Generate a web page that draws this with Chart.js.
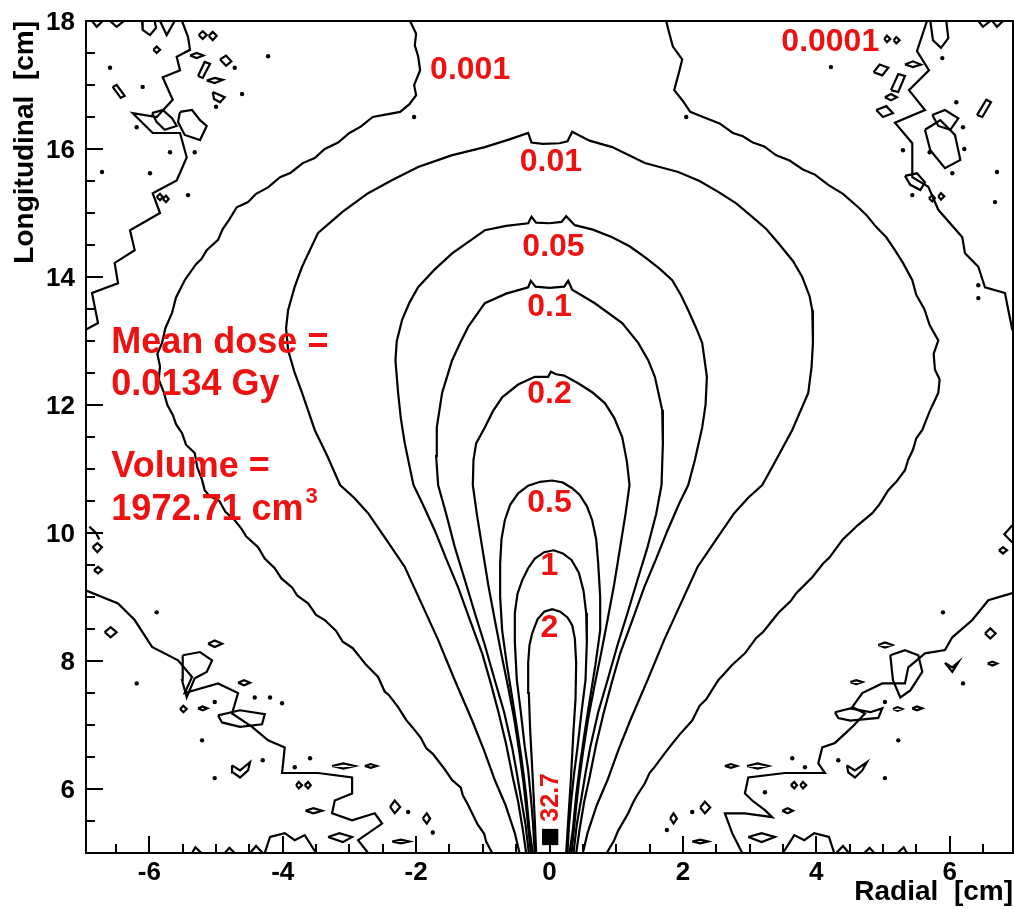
<!DOCTYPE html>
<html>
<head>
<meta charset="utf-8">
<script src="https://cdn.jsdelivr.net/npm/chart.js@4.4.1/dist/chart.umd.min.js"></script>
<style>
  html, body { margin: 0; padding: 0; background: #fff; overflow: hidden; }
  canvas { display: block; }
</style>
</head>
<body>
<canvas id="dose" width="1014" height="909"></canvas>
<script>
// axis tick labels
const xTicks = [-6, -4, -2, 0, 2, 4, 6];
const yTicks = [6, 8, 10, 12, 14, 16, 18];

// iso-dose contours, [radial, longitudinal] in cm
const dose2 = [[-0.20,5.0],[-0.22,5.5],[-0.25,6.14],[-0.29,6.92],[-0.31,7.5],[-0.32,7.97],[-0.30,8.25],[-0.26,8.43],[-0.18,8.65],[-0.08,8.77],[0.04,8.81],[0.16,8.77],[0.27,8.68],[0.34,8.56],[0.38,8.35],[0.40,7.97],[0.39,7.4],[0.36,6.92],[0.32,6.14],[0.28,5.5],[0.25,5.0]];
const dose1 = [[-0.22,5.0],[-0.25,5.5],[-0.28,5.87],[-0.32,6.3],[-0.37,6.65],[-0.43,7.2],[-0.49,7.7],[-0.52,8.3],[-0.52,8.75],[-0.48,9.05],[-0.41,9.26],[-0.32,9.45],[-0.22,9.6],[-0.08,9.7],[0.06,9.73],[0.20,9.68],[0.33,9.58],[0.44,9.38],[0.51,9.1],[0.55,8.75],[0.56,8.3],[0.54,7.7],[0.48,7.2],[0.42,6.65],[0.37,6.25],[0.33,5.87],[0.29,5.4],[0.27,5.0]];
const dose05 = [[-0.25,5.0],[-0.30,5.36],[-0.35,5.9],[-0.41,6.4],[-0.48,6.9],[-0.56,7.43],[-0.64,7.95],[-0.71,8.48],[-0.74,9.0],[-0.74,9.53],[-0.72,9.9],[-0.67,10.2],[-0.59,10.44],[-0.47,10.62],[-0.32,10.74],[-0.14,10.8],[0.04,10.82],[0.20,10.79],[0.34,10.7],[0.45,10.6],[0.56,10.42],[0.64,10.2],[0.70,9.9],[0.73,9.53],[0.76,9.0],[0.76,8.48],[0.69,7.95],[0.61,7.43],[0.53,6.9],[0.46,6.4],[0.40,5.9],[0.35,5.36],[0.30,5.0]];
const dose02 = [[-0.28,5.0],[-0.34,5.62],[-0.39,6.1],[-0.45,6.56],[-0.53,7.1],[-0.62,7.59],[-0.72,8.1],[-0.82,8.64],[-0.92,9.2],[-1.01,9.78],[-1.09,10.3],[-1.15,10.75],[-1.14,11.14],[-1.10,11.4],[-0.97,11.65],[-0.85,11.9],[-0.71,12.12],[-0.47,12.32],[-0.22,12.44],[-0.02,12.44],[0.02,12.52],[0.10,12.48],[0.22,12.46],[0.43,12.34],[0.64,12.2],[0.83,12.03],[0.97,11.8],[1.09,11.5],[1.16,11.12],[1.20,10.75],[1.14,10.3],[1.06,9.78],[0.97,9.2],[0.87,8.64],[0.77,8.1],[0.67,7.59],[0.58,7.1],[0.50,6.56],[0.44,6.1],[0.39,5.62],[0.33,5.0]];
const dose01 = [[-0.31,5.0],[-0.36,5.45],[-0.43,5.87],[-0.49,6.25],[-0.56,6.65],[-0.68,7.2],[-0.82,7.7],[-0.97,8.25],[-1.12,8.75],[-1.27,9.27],[-1.42,9.78],[-1.55,10.3],[-1.67,10.75],[-1.70,11.2],[-1.69,11.65],[-1.61,12.19],[-1.46,12.7],[-1.34,12.97],[-1.22,13.22],[-0.97,13.59],[-0.65,13.74],[-0.32,13.84],[-0.28,13.94],[-0.21,13.85],[0.0,13.83],[0.22,13.85],[0.28,13.94],[0.34,13.8],[0.68,13.59],[1.09,13.28],[1.33,12.97],[1.48,12.7],[1.58,12.44],[1.69,11.92],[1.70,11.4],[1.68,10.75],[1.60,10.3],[1.47,9.78],[1.32,9.27],[1.17,8.75],[1.02,8.25],[0.87,7.7],[0.73,7.2],[0.61,6.65],[0.54,6.25],[0.48,5.87],[0.41,5.45],[0.36,5.0]];
const dose005 = [[-0.35,5.0],[-0.40,5.36],[-0.47,5.8],[-0.55,6.18],[-0.65,6.7],[-0.76,7.18],[-0.88,7.65],[-1.01,8.12],[-1.19,8.63],[-1.37,9.15],[-1.55,9.6],[-1.72,10.04],[-1.90,10.45],[-2.04,10.75],[-2.11,11.1],[-2.17,11.4],[-2.23,11.8],[-2.27,12.19],[-2.31,12.7],[-2.29,13.0],[-2.21,13.33],[-2.10,13.6],[-1.97,13.84],[-1.72,14.12],[-1.46,14.37],[-1.20,14.56],[-0.97,14.73],[-0.65,14.8],[-0.32,14.84],[-0.27,14.94],[-0.20,14.85],[0.0,14.84],[0.18,14.86],[0.25,14.95],[0.38,14.81],[0.65,14.74],[0.94,14.62],[1.20,14.48],[1.43,14.31],[1.65,14.13],[1.84,13.95],[1.97,13.72],[2.08,13.48],[2.20,13.2],[2.29,12.97],[2.36,12.44],[2.34,12.0],[2.29,11.65],[2.18,11.14],[2.08,10.75],[1.94,10.45],[1.77,10.04],[1.60,9.6],[1.42,9.15],[1.24,8.63],[1.06,8.12],[0.93,7.65],[0.81,7.18],[0.70,6.7],[0.60,6.18],[0.52,5.8],[0.45,5.36],[0.40,5.0]];
const dose001 = [[-0.45,5.0],[-0.52,5.31],[-0.66,5.75],[-0.82,6.14],[-0.98,6.6],[-1.16,7.07],[-1.42,7.7],[-1.67,8.33],[-1.92,8.9],[-2.17,9.47],[-2.45,9.9],[-2.72,10.31],[-2.93,10.55],[-3.14,10.75],[-3.33,11.2],[-3.52,11.61],[-3.71,12.19],[-3.82,12.5],[-3.92,12.86],[-3.95,13.2],[-3.92,13.48],[-3.82,13.85],[-3.71,14.16],[-3.47,14.69],[-3.10,15.02],[-2.72,15.31],[-2.35,15.52],[-1.97,15.72],[-1.47,15.9],[-0.97,16.03],[-0.60,16.15],[-0.32,16.25],[-0.27,16.1],[-0.10,16.08],[0.15,16.09],[0.27,16.12],[0.34,16.27],[0.60,16.13],[0.94,16.03],[1.20,15.9],[1.43,15.78],[1.93,15.64],[2.25,15.5],[2.53,15.33],[2.80,15.15],[3.04,14.94],[3.25,14.75],[3.43,14.53],[3.65,14.25],[3.79,14.0],[3.90,13.7],[3.94,13.48],[3.95,12.97],[3.93,12.6],[3.88,12.19],[3.64,11.61],[3.34,11.03],[3.19,10.75],[2.98,10.55],[2.77,10.31],[2.50,9.9],[2.22,9.47],[1.97,8.9],[1.72,8.33],[1.47,7.7],[1.21,7.07],[1.03,6.6],[0.87,6.14],[0.71,5.75],[0.57,5.31],[0.50,5.0]];
const dose0001L = [[-0.86,5.0],[-0.95,5.18],[-0.98,5.3],[-1.08,5.45],[-1.16,5.62],[-1.22,5.75],[-1.30,5.9],[-1.33,6.02],[-1.46,6.14],[-1.58,6.32],[-1.75,6.55],[-1.85,6.64],[-1.93,6.8],[-2.06,6.97],[-2.15,7.08],[-2.27,7.28],[-2.41,7.47],[-2.47,7.52],[-2.57,7.75],[-2.75,7.94],[-2.95,8.2],[-3.10,8.3],[-3.20,8.47],[-3.37,8.64],[-3.50,8.72],[-3.62,8.9],[-3.78,9.02],[-3.86,9.15],[-4.02,9.29],[-4.12,9.45],[-4.27,9.6],[-4.37,9.78],[-4.55,9.95],[-4.62,10.07],[-4.72,10.2],[-4.86,10.33],[-4.95,10.5],[-5.10,10.58],[-5.17,10.67],[-5.21,10.83],[-5.28,11.02],[-5.32,11.25],[-5.45,11.38],[-5.51,11.56],[-5.60,11.7],[-5.65,11.85],[-5.73,12.0],[-5.78,12.19],[-5.86,12.4],[-5.84,12.6],[-5.88,12.8],[-5.81,12.97],[-5.76,13.2],[-5.66,13.44],[-5.60,13.68],[-5.47,13.95],[-5.30,14.2],[-5.22,14.28],[-5.14,14.42],[-4.97,14.58],[-4.90,14.75],[-4.80,14.9],[-4.69,15.09],[-4.52,15.17],[-4.40,15.3],[-4.22,15.4],[-4.04,15.56],[-3.88,15.63],[-3.70,15.78],[-3.52,15.86],[-3.37,16.0],[-3.17,16.1],[-3.00,16.25],[-2.83,16.35],[-2.65,16.5],[-2.40,16.55],[-2.24,16.58],[-2.10,16.7],[-2.00,16.84],[-2.03,17.0],[-1.94,17.23],[-1.97,17.45],[-2.02,17.62],[-2.00,17.8],[-2.09,18.0]];
const dose0001R = [[1.75,18.0],[1.78,17.87],[1.85,17.6],[1.99,17.4],[1.95,17.23],[1.87,16.92],[2.00,16.75],[2.11,16.58],[2.35,16.48],[2.55,16.4],[2.75,16.25],[2.90,16.2],[3.05,16.1],[3.22,16.04],[3.40,15.9],[3.60,15.82],[3.80,15.68],[3.98,15.6],[4.18,15.44],[4.40,15.3],[4.63,15.09],[4.75,14.97],[4.90,14.78],[5.05,14.62],[5.18,14.42],[5.30,14.22],[5.44,13.95],[5.50,13.72],[5.62,13.5],[5.70,13.25],[5.83,13.01],[5.76,12.8],[5.78,12.55],[5.85,12.4],[5.83,12.19],[5.70,11.9],[5.59,11.61],[5.50,11.48],[5.45,11.3],[5.38,11.15],[5.33,10.98],[5.20,10.8],[5.08,10.67],[4.95,10.45],[4.84,10.31],[4.62,10.12],[4.55,10.05],[4.39,9.89],[4.20,9.62],[4.10,9.52],[3.94,9.31],[3.70,9.06],[3.62,8.94],[3.43,8.75],[3.20,8.45],[3.10,8.36],[2.93,8.12],[2.73,7.93],[2.62,7.8],[2.53,7.7],[2.35,7.4],[2.25,7.3],[2.14,7.07],[1.95,6.85],[1.85,6.72],[1.73,6.56],[1.58,6.35],[1.50,6.25],[1.43,6.09],[1.30,5.88],[1.25,5.78],[1.18,5.62],[1.03,5.35],[0.97,5.2],[0.88,5.04],[0.86,5.0]];

// 0.0001 Gy fringe: long strands, small closed islands, edge bumps and dots
const fringeTL = [[-5.51,18.0],[-5.42,17.75],[-5.39,17.55],[-5.59,17.44],[-5.54,17.23],[-5.80,17.12],[-5.65,16.77],[-5.89,16.5],[-6.25,16.56],[-5.95,16.25],[-5.54,16.25],[-5.44,15.87],[-5.59,15.51],[-5.95,15.31],[-5.84,15.0],[-6.29,14.73],[-6.22,14.42],[-6.52,14.22],[-6.47,13.9],[-6.86,13.75],[-6.77,13.28],[-6.97,13.17]];
const fringeTR = [[5.66,18.0],[5.51,17.53],[5.69,17.23],[5.39,16.92],[5.63,16.61],[5.18,16.41],[5.44,16.09],[5.44,15.56],[5.68,15.41],[5.83,15.05],[6.19,14.62],[6.23,14.37],[6.43,14.16],[6.53,13.84],[6.83,13.75],[6.88,13.48],[6.94,13.17]];
const fringeBL = [[-6.97,9.11],[-6.47,8.9],[-6.22,8.64],[-5.96,8.22],[-5.57,8.01],[-5.36,7.75],[-5.47,7.5],[-4.97,7.65],[-4.67,7.5],[-4.76,7.18],[-4.46,6.97],[-4.22,6.76],[-3.97,6.65],[-4.01,6.25],[-3.47,6.25],[-2.96,6.18],[-2.96,5.93],[-3.22,5.82],[-3.26,5.62],[-2.96,5.51],[-2.62,5.62],[-2.51,5.46],[-2.87,5.2],[-2.72,5.0]];
const fringeBR = [[6.94,9.06],[6.58,8.95],[6.34,8.64],[6.04,8.37],[5.93,8.17],[5.63,8.12],[5.38,7.9],[5.33,7.65],[4.99,7.65],[4.69,7.5],[4.54,7.28],[4.73,7.18],[4.54,6.97],[4.28,6.72],[4.09,6.65],[4.03,6.4],[4.13,6.25],[3.53,6.25],[2.98,6.18],[2.93,5.93],[3.04,5.82],[3.23,5.67],[3.34,5.56],[2.93,5.62],[2.63,5.62],[2.74,5.31],[2.89,5.0]];

const fringeLoops = [
  [[-5.26,17.78],[-5.20,17.84],[-5.14,17.78],[-5.20,17.72]],
  [[-5.11,17.77],[-5.05,17.83],[-4.99,17.77],[-5.05,17.70]],
  [[-5.94,17.55],[-5.89,17.60],[-5.84,17.55],[-5.89,17.50]],
  [[-5.39,17.46],[-5.29,17.50],[-5.19,17.46],[-5.29,17.42]],
  [[-4.94,17.40],[-4.85,17.46],[-4.77,17.37],[-4.85,17.30]],
  [[-5.27,17.14],[-5.17,17.36],[-5.09,17.33],[-5.20,17.11]],
  [[-5.14,17.07],[-5.02,17.11],[-4.90,17.08],[-5.02,17.03]],
  [[-5.05,16.89],[-4.87,16.81],[-4.94,16.73],[-5.03,16.78]],
  [[-6.55,16.97],[-6.49,17.00],[-6.37,16.83],[-6.43,16.80]],
  [[-5.96,16.56],[-5.80,16.61],[-5.66,16.48],[-5.59,16.36],[-5.77,16.30],[-5.89,16.42]],
  [[-5.54,16.58],[-5.36,16.61],[-5.24,16.45],[-5.14,16.36],[-5.24,16.14],[-5.47,16.22],[-5.57,16.42]],
  [[-5.89,15.25],[-5.84,15.30],[-5.80,15.25],[-5.84,15.20]],
  [[-5.80,15.22],[-5.75,15.27],[-5.71,15.22],[-5.75,15.17]],
  [[4.86,17.20],[4.95,17.32],[5.08,17.27],[4.99,17.15]],
  [[5.12,16.92],[5.23,17.17],[5.33,17.14],[5.23,16.89]],
  [[4.90,16.61],[5.05,16.67],[5.15,16.56],[5.00,16.50]],
  [[5.03,16.81],[5.12,16.86],[5.21,16.81],[5.12,16.76]],
  [[5.33,17.32],[5.45,17.37],[5.57,17.32],[5.45,17.28]],
  [[6.41,16.53],[6.55,16.77],[6.62,16.73],[6.49,16.50]],
  [[5.02,17.72],[5.06,17.77],[5.11,17.72],[5.06,17.67]],
  [[5.16,17.70],[5.20,17.75],[5.25,17.70],[5.20,17.65]],
  [[5.74,16.53],[5.93,16.61],[6.13,16.48],[6.01,16.30],[5.83,16.36]],
  [[5.33,15.58],[5.51,15.62],[5.63,15.48],[5.56,15.36],[5.41,15.44]],
  [[5.69,15.23],[5.74,15.28],[5.78,15.23],[5.74,15.18]],
  [[5.83,15.26],[5.87,15.31],[5.92,15.26],[5.87,15.21]],
  [[5.63,16.30],[5.86,16.45],[6.08,16.22],[6.16,15.83],[5.93,15.70],[5.71,15.98]],
  [[-6.67,8.45],[-6.58,8.53],[-6.49,8.45],[-6.58,8.37]],
  [[-5.12,8.27],[-5.02,8.32],[-4.91,8.27],[-5.02,8.22]],
  [[-5.50,8.09],[-5.24,8.14],[-5.06,8.01],[-5.14,7.83],[-5.32,7.73],[-5.44,7.43],[-5.51,7.70]],
  [[-4.67,7.66],[-4.58,7.70],[-4.49,7.66],[-4.58,7.62]],
  [[-5.54,7.25],[-5.49,7.30],[-5.44,7.25],[-5.49,7.20]],
  [[-5.27,7.26],[-5.20,7.29],[-5.13,7.26],[-5.20,7.23]],
  [[-4.76,6.37],[-4.64,6.29],[-4.49,6.42],[-4.52,6.29],[-4.64,6.18],[-4.75,6.26]],
  [[-3.80,6.06],[-3.76,6.11],[-3.71,6.06],[-3.76,6.01]],
  [[-3.67,6.06],[-3.62,6.11],[-3.58,6.06],[-3.62,6.01]],
  [[-3.26,6.36],[-3.09,6.40],[-2.92,6.36],[-3.09,6.32]],
  [[-2.77,6.36],[-2.68,6.39],[-2.59,6.36],[-2.68,6.33]],
  [[-3.66,5.66],[-3.54,5.70],[-3.41,5.66],[-3.54,5.62]],
  [[-2.39,5.72],[-2.32,5.82],[-2.24,5.72],[-2.32,5.62]],
  [[-1.90,5.54],[-1.84,5.62],[-1.79,5.54],[-1.84,5.46]],
  [[-2.36,5.18],[-2.23,5.21],[-2.10,5.18],[-2.23,5.15]],
  [[-3.32,5.25],[-3.15,5.31],[-2.96,5.25],[-3.10,5.17]],
  [[-4.97,7.15],[-4.64,7.23],[-4.27,7.17],[-4.31,7.01],[-4.64,6.97],[-4.91,7.04]],
  [[-6.85,9.78],[-6.78,9.84],[-6.71,9.78],[-6.78,9.70]],
  [[-6.83,9.42],[-6.77,9.47],[-6.71,9.42],[-6.77,9.37]],
  [[6.53,8.43],[6.61,8.51],[6.69,8.43],[6.61,8.35]],
  [[4.93,8.25],[5.03,8.29],[5.14,8.25],[5.03,8.21]],
  [[5.11,8.09],[5.33,8.17],[5.53,8.09],[5.59,7.83],[5.41,7.54],[5.26,7.43],[5.15,7.70]],
  [[4.51,7.67],[4.60,7.70],[4.69,7.67],[4.60,7.64]],
  [[5.44,7.26],[5.51,7.29],[5.59,7.26],[5.51,7.23]],
  [[5.15,7.25],[5.22,7.28],[5.29,7.25],[5.22,7.22]],
  [[4.28,7.20],[4.51,7.26],[4.81,7.20],[4.99,7.26],[4.93,7.11],[4.51,7.07],[4.33,7.11]],
  [[4.46,6.37],[4.58,6.29],[4.76,6.42],[4.69,6.29],[4.58,6.18],[4.48,6.26]],
  [[3.62,6.06],[3.67,6.11],[3.71,6.06],[3.67,6.01]],
  [[3.76,6.06],[3.80,6.11],[3.85,6.06],[3.80,6.01]],
  [[2.63,6.36],[2.72,6.39],[2.81,6.36],[2.72,6.33]],
  [[2.96,6.36],[3.12,6.40],[3.28,6.36],[3.12,6.32]],
  [[3.49,5.66],[3.57,5.70],[3.65,5.66],[3.57,5.62]],
  [[2.26,5.71],[2.33,5.80],[2.41,5.71],[2.33,5.62]],
  [[1.81,5.54],[1.86,5.62],[1.91,5.54],[1.86,5.46]],
  [[2.14,5.18],[2.26,5.21],[2.38,5.18],[2.26,5.15]],
  [[2.98,5.25],[3.18,5.31],[3.38,5.25],[3.18,5.17]],
  [[5.93,7.97],[6.04,7.83],[6.13,7.98],[6.04,7.90]],
  [[6.57,7.96],[6.64,7.99],[6.71,7.96],[6.64,7.93]],
  [[6.74,9.73],[6.80,9.78],[6.86,9.73],[6.80,9.68]]
];
const fringeArcs = [
  [[-6.11,18.0],[-6.10,17.86],[-5.99,17.78],[-5.90,17.89],[-5.92,18.0]],
  [[-5.84,18.0],[-5.74,17.78],[-5.62,18.0]],
  [[-6.86,18.0],[-6.79,17.91],[-6.70,18.0]],
  [[-6.59,18.0],[-6.49,17.91],[-6.38,18.0]],
  [[5.71,18.0],[5.75,17.70],[5.87,17.58],[5.98,17.73],[5.95,18.0]],
  [[6.43,18.0],[6.50,17.91],[6.61,18.0]],
  [[6.64,18.0],[6.71,17.91],[6.80,18.0]],
  [[-5.36,5.0],[-5.31,5.09],[-5.22,5.0]],
  [[-4.87,5.0],[-4.80,5.08],[-4.72,5.0]],
  [[-4.49,5.0],[-4.40,5.11],[-4.30,5.0]],
  [[-4.27,5.0],[-4.19,5.25],[-3.97,5.31],[-3.82,5.2],[-3.67,5.28],[-3.50,5.0]],
  [[5.22,5.0],[5.31,5.09],[5.36,5.0]],
  [[4.72,5.0],[4.80,5.08],[4.87,5.0]],
  [[4.30,5.0],[4.40,5.11],[4.49,5.0]],
  [[3.50,5.0],[3.67,5.28],[3.82,5.2],[3.97,5.31],[4.19,5.25],[4.27,5.0]],
  [[-6.90,10.1],[-6.80,10.0],[-6.75,9.9]],
  [[6.94,10.12],[6.82,9.98],[6.94,9.85]]
];
const fringeDots = [[-4.22,17.45],[-4.61,16.86],[-6.59,17.27],[-6.10,16.97],[-6.19,16.34],[-5.69,15.95],[-5.32,15.95],[-5.99,15.62],[-6.71,15.64],[-5.42,15.28],[-4.72,17.27],[-5.0,16.66],[-2.03,16.5],[2.05,16.5],[4.22,17.28],[6.2,16.34],[5.7,15.95],[6.04,15.62],[6.71,15.64],[5.3,15.98],[5.44,15.28],[6.43,13.87],[6.43,13.67],[6.68,15.17],[6.1,16.73],[5.89,17.42],[6.22,16.0],[-6.19,7.65],[-5.89,8.76],[-5.21,6.76],[-5.02,6.17],[-5.02,7.36],[-4.42,7.43],[-4.19,7.43],[-4.01,7.34],[-3.82,6.34],[-4.30,6.45],[-3.59,6.48],[-2.12,5.64],[-1.75,5.32],[6.2,7.65],[5.9,8.76],[5.23,6.76],[5.03,6.17],[5.03,7.36],[3.64,6.48],[4.33,6.45],[3.83,6.34],[2.14,5.64],[1.76,5.36],[3.23,5.95]];

// source marker and the peak value
const sourceX = [0.01];
const sourceY = [5.25];

// contour level labels and their anchors
const levelText = ['0.0001', '0.001', '0.01', '0.05', '0.1', '0.2', '0.5', '1', '2'];
const levelX = [4.21, -1.19, 0.02, 0.06, 0.0, 0.0, 0.0, 0.0, 0.0];
const levelY = [17.67, 17.23, 15.8, 14.47, 13.53, 12.17, 10.47, 9.48, 8.52];
const peakText = '32.7';
const peakX = 0.03, peakY = 5.87;

// summary text
const noteText = ['Mean dose =', '0.0134 Gy', 'Volume =', '1972.71 cm'];
const noteX = -6.57;
const noteY = [12.81, 12.15, 10.88, 10.2];

const ink = '#000';
const red = '#ee1111';
const family = '"Liberation Sans", Arial, Helvetica, sans-serif';

function pts(arr) { return arr.map(p => ({x: p[0], y: p[1]})); }
function line(arr) {
  return { data: pts(arr), showLine: true, borderColor: ink, borderWidth: 2.2, pointRadius: 0, tension: 0, fill: false };
}

const curves = [dose2, dose1, dose05, dose02, dose01, dose005, dose001, dose0001L, dose0001R,
  fringeTL, fringeTR, fringeBL, fringeBR].concat(fringeArcs);
const datasets = curves.map(line)
  .concat(fringeLoops.map(l => line(l.concat([l[0]]))));
datasets.push({ data: pts(fringeDots), showLine: false, pointRadius: 2.2, pointBorderWidth: 0, pointBackgroundColor: ink });
datasets.push({ data: sourceX.map((x, i) => ({x, y: sourceY[i]})), showLine: false, pointStyle: 'rect', pointRadius: 11.5, pointBorderWidth: 0, pointBackgroundColor: ink });

// frame and inward ROOT-style ticks
const frame = {
  id: 'frame',
  afterDatasetsDraw(chart) {
    const { ctx, chartArea: a, scales: { x, y } } = chart;
    ctx.save();
    ctx.strokeStyle = ink;
    ctx.lineWidth = 2;
    ctx.beginPath();
    for (let v = -6.5; v <= 6.5; v += 0.5) {
      const px = Math.round(x.getPixelForValue(v));
      const len = v % 2 === 0 ? 17 : 9;
      ctx.moveTo(px, a.bottom); ctx.lineTo(px, a.bottom - len);
    }
    for (let v = 5.5; v <= 17.5; v += 0.5) {
      const py = Math.round(y.getPixelForValue(v));
      const len = v % 2 === 0 ? 17 : 9;
      ctx.moveTo(a.left, py); ctx.lineTo(a.left + len, py);
    }
    ctx.stroke();
    ctx.strokeRect(a.left, a.top, a.right - a.left, a.bottom - a.top);
    ctx.restore();
  }
};

// red labels
const labels = {
  id: 'labels',
  afterDatasetsDraw(chart) {
    const { ctx, scales: { x, y } } = chart;
    ctx.save();
    ctx.fillStyle = red;
    ctx.textAlign = 'center';
    ctx.textBaseline = 'middle';
    ctx.font = 'bold 32px ' + family;
    levelText.forEach((t, i) => ctx.fillText(t, x.getPixelForValue(levelX[i]), y.getPixelForValue(levelY[i])));

    ctx.save();
    ctx.font = 'bold 25px ' + family;
    ctx.translate(x.getPixelForValue(peakX), y.getPixelForValue(peakY));
    ctx.rotate(-Math.PI / 2);
    ctx.fillText(peakText, 0, 0);
    ctx.restore();

    ctx.textAlign = 'left';
    ctx.textBaseline = 'alphabetic';
    ctx.font = 'bold 36px ' + family;
    const lx = x.getPixelForValue(noteX);
    noteText.forEach((t, i) => ctx.fillText(t, lx, y.getPixelForValue(noteY[i])));
    const last = noteText.length - 1;
    const w = ctx.measureText(noteText[last]).width;
    ctx.font = 'bold 22px ' + family;
    ctx.fillText('3', lx + w + 2, y.getPixelForValue(noteY[last]) - 17);
    ctx.restore();
  }
};

function noPad(s) { s.paddingLeft = 0; s.paddingRight = 0; s.paddingTop = 0; s.paddingBottom = 0; }

new Chart(document.getElementById('dose'), {
  type: 'scatter',
  data: { datasets },
  options: {
    responsive: false,
    animation: false,
    devicePixelRatio: 1,
    layout: { autoPadding: false, padding: { top: 21, right: 1, left: 0, bottom: 0 } },
    plugins: { legend: { display: false }, tooltip: { enabled: false } },
    scales: {
      x: {
        type: 'linear', min: -6.95, max: 6.95,
        afterBuildTicks: s => { s.ticks = xTicks.map(v => ({ value: v })); },
        afterFit: s => { s.height = 56; noPad(s); },
        grid: { display: false, drawTicks: false },
        border: { display: false },
        ticks: { color: ink, padding: 4, maxRotation: 0, autoSkip: false, font: { family, size: 26, weight: 'bold' } },
        title: { display: true, text: 'Radial  [cm]', align: 'end', color: ink, padding: { top: 0, bottom: 0 }, font: { family, size: 28, weight: 'bold' } }
      },
      y: {
        type: 'linear', min: 5, max: 18,
        afterBuildTicks: s => { s.ticks = yTicks.map(v => ({ value: v })); },
        afterFit: s => { s.width = 86; noPad(s); },
        grid: { display: false, drawTicks: false },
        border: { display: false },
        ticks: { color: ink, padding: 11, labelOffset: 2, autoSkip: false, font: { family, size: 26, weight: 'bold' } },
        title: { display: true, text: 'Longitudinal  [cm]', align: 'end', color: ink, padding: { top: 8, bottom: 0 }, font: { family, size: 28, weight: 'bold' } }
      }
    }
  },
  plugins: [frame, labels]
});
</script>
</body>
</html>
